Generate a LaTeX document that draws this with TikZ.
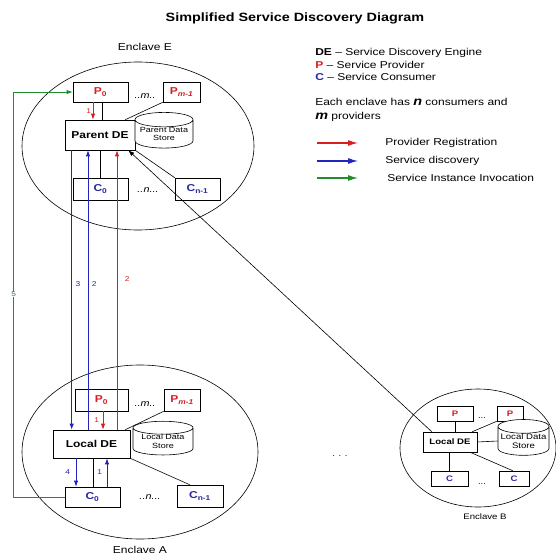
\documentclass[tikz,border=0pt]{standalone}
\usepackage{fontspec}
\setmainfont{Liberation Sans}[FakeStretch=1.2]
\usetikzlibrary{shapes.geometric,arrows.meta}
\definecolor{provred}{RGB}{215,30,35}
\definecolor{discblue}{RGB}{35,35,190}
\definecolor{invgreen}{RGB}{35,140,45}
\definecolor{ctext}{RGB}{40,40,160}

\begin{document}
\begin{tikzpicture}[x=1pt, y=-1pt, >={Latex[length=6pt,width=4.5pt]}, line width=0.6pt,
            box/.style={draw, fill=white, inner sep=0pt, font=\fontsize{10}{12}\selectfont\bfseries},
            small box/.style={box, font=\fontsize{8}{10}\selectfont\bfseries},
            store/.style={cylinder, shape border rotate=90, aspect=0.3, draw, fill=white, inner sep=0pt, align=center, font=\fontsize{7.5}{8.5}\selectfont},
            enclave/.style={ellipse, draw, inner sep=0pt},
            lbl/.style={font=\fontsize{10}{12}\selectfont},
            key/.style={lbl, anchor=west, inner sep=0pt},
            dots/.style={font=\fontsize{9}{10}\selectfont\itshape},
            num/.style={font=\fontsize{7}{8}\selectfont, inner sep=1.5pt},
            reg/.style={->, provred, line width=0.9pt},
            disc/.style={->, discblue, line width=0.9pt},
            inv/.style={->, invgreen, line width=0.9pt},
            keyarrow/.style={line width=1.1pt, -{Latex[length=10pt,width=6pt]}}
          ]
        \useasboundingbox (0,0) rectangle (556,556);
        \node[font=\fontsize{12}{14}\selectfont\bfseries] (title) at (295,18) {Simplified Service Discovery Diagram};

        \node[enclave, minimum width=232pt, minimum height=168pt] (encE) at (138,146) {};
        \node[enclave, minimum width=236pt, minimum height=174pt] (encA) at (140,452) {};
        \node[enclave, minimum width=156pt, minimum height=118pt] (encB) at (478,448) {};
        \node[lbl] (labE) at (145,47) {Enclave E};
        \node[lbl] (labA) at (140,550) {Enclave A};
        \node[lbl, font=\fontsize{8}{10}\selectfont] (labB) at (485,517) {Enclave B};

        \node[key] (keyDE) at (315,53) {\textbf{DE} -- Service Discovery Engine};
        \node[key] (keyP) at (315,65) {\textbf{\color{provred}P} -- Service Provider};
        \node[key] (keyC) at (315,77) {\textbf{\color{ctext}C} -- Service Consumer};
        \node[key] (keyN) at (315,102) {Each enclave has {\fontsize{12}{12}\selectfont\bfseries\itshape n} consumers and};
        \node[key] (keyM) at (315,117) {{\fontsize{12}{12}\selectfont\bfseries\itshape m} providers};
        \node[key] (keyReg) at (385,143) {Provider Registration};
        \node[key] (keyDisc) at (385,161) {Service discovery};
        \node[key] (keyInv) at (387,178) {Service Instance Invocation};
        \draw[keyarrow, provred] ([xshift=-68pt]keyReg.west) -- ([xshift=-27pt]keyReg.west);
        \draw[keyarrow, discblue] ([xshift=-68pt]keyDisc.west) -- ([xshift=-27pt]keyDisc.west);
        \draw[keyarrow, invgreen] ([xshift=-70pt]keyInv.west) -- ([xshift=-29pt]keyInv.west);

        \node[box, text=provred, minimum width=55pt, minimum height=20pt] (P0E) at (100.5,92) {P\textsubscript{0}};
        \node[box, text=provred, minimum width=37pt, minimum height=20pt] (PmE) at (181.5,92) {P\textsubscript{\itshape m-1}};
        \node[dots] (dotsPE) at (145,96) {..m..};
        \node[box, minimum width=70pt, minimum height=30pt] (ParentDE) at (100,135) {Parent DE};
        \node[store, minimum width=58pt, minimum height=32pt] (StoreE) at (164,134) {Parent Data\\Store};
        \node[box, text=ctext, minimum width=55pt, minimum height=22pt] (C0E) at (100.5,189) {C\textsubscript{0}};
        \node[dots] (dotsCE) at (148,190) {..n...};
        \node[box, text=ctext, minimum width=45pt, minimum height=22pt] (CnE) at (197.5,189) {C\textsubscript{n-1}};

        \node[box, text=provred, minimum width=53pt, minimum height=22pt] (P0A) at (101.5,400) {P\textsubscript{0}};
        \node[box, text=provred, minimum width=36pt, minimum height=22pt] (PmA) at (182,400) {P\textsubscript{\itshape m-1}};
        \node[dots] (dotsPA) at (145,404) {..m..};
        \node[box, minimum width=77pt, minimum height=28pt] (LocalDE) at (91.5,444) {Local DE};
        \node[store, minimum width=60pt, minimum height=31pt] (StoreA) at (163,441.5) {Local Data\\Store};
        \node[box, text=ctext, minimum width=55pt, minimum height=20pt] (C0A) at (92.5,497) {C\textsubscript{0}};
        \node[dots] (dotsCA) at (150,497) {..n...};
        \node[box, text=ctext, minimum width=46pt, minimum height=22pt] (CnA) at (200,496) {C\textsubscript{n-1}};

        \node[small box, text=provred, minimum width=36pt, minimum height=15pt] (P1B) at (455,413.5) {P};
        \node[small box, text=provred, minimum width=26pt, minimum height=15pt] (P2B) at (510,413.5) {P};
        \node[font=\fontsize{8}{10}\selectfont] (dotsPB) at (482,418) {...};
        \node[small box, minimum width=54pt, minimum height=20pt] (LocalDEB) at (450,442) {Local DE};
        \node[store, minimum width=51pt, minimum height=32pt, font=\fontsize{8}{9}\selectfont] (StoreB) at (523.5,441) {Local Data\\Store};
        \node[small box, text=ctext, minimum width=37pt, minimum height=15pt] (C1B) at (449.5,478.5) {C};
        \node[small box, text=ctext, minimum width=30pt, minimum height=15pt] (C2B) at (514,478.5) {C};
        \node[font=\fontsize{8}{10}\selectfont] (dotsCB) at (482,484) {...};
        \node[font=\fontsize{8}{10}\selectfont] (gap) at (340,456) {. . .};

        \draw[reg] ([xshift=-7.5pt]P0E.south) coordinate (r1E) -- (r1E |- ParentDE.north) node[num, provred, midway, left] {1};
        \draw ([xshift=1.5pt]P0E.south) coordinate (l1E) -- (l1E |- ParentDE.north);
        \draw (PmE.south west) -- ([xshift=-10pt]ParentDE.north east);
        \draw (C0E.north) -- (C0E.north |- ParentDE.south);
        \draw (CnE.north west) -- (ParentDE.south east);

        \draw[disc] ([xshift=7pt]ParentDE.south west) coordinate (d3) -- (d3 |- LocalDE.north) node[num, discblue, pos=.48, right=2pt] {3};
        \draw[disc] ([xshift=-3.5pt]LocalDE.north) coordinate (d2) -- (d2 |- ParentDE.south) node[num, discblue, pos=.52, right=2pt] {2};
        \draw[reg] ([xshift=25.5pt]LocalDE.north) coordinate (r2) -- (r2 |- ParentDE.south) node[num, provred, pos=.54, right=6pt] {2};

        \draw[reg] ([xshift=1.5pt]P0A.south) coordinate (r1A) -- (r1A |- LocalDE.north) node[num, provred, midway, left=2pt] {1};
        \draw (PmA.south west) -- ([xshift=-5pt]LocalDE.north east);
        \draw[disc] ([xshift=-15.5pt]LocalDE.south) coordinate (d4) -- (d4 |- C0A.north) node[num, discblue, midway, left=4pt] {4};
        \draw ([xshift=1.5pt]LocalDE.south) coordinate (l1A) -- (l1A |- C0A.north);
        \draw[disc] ([xshift=14.5pt]C0A.north) coordinate (d1) -- (d1 |- LocalDE.south) node[num, discblue, midway, left=3pt] {1};
        \draw (LocalDE.south east) -- ([xshift=13pt]CnA.north west);

        \draw[inv] (C0A.west) -- ++(-51,0) coordinate (g) -- (g |- P0E.west) node[num, invgreen, midway, fill=white, inner sep=0.5pt] {5} -- (P0E.west);

        \draw (P1B.south) -- (P1B.south |- LocalDEB.north);
        \draw ([xshift=-5pt]LocalDEB.north east) -- (P2B.south west);
        \draw (LocalDEB.east) -- (StoreB.west);
        \draw (C1B.north) -- (C1B.north |- LocalDEB.south);
        \draw ([xshift=-7pt]LocalDEB.south east) -- ([xshift=14pt]C2B.north west);
        \draw[->] ([xshift=9pt]LocalDEB.north west) -- ([xshift=-7pt]ParentDE.south east);
\end{tikzpicture}
\end{document}
